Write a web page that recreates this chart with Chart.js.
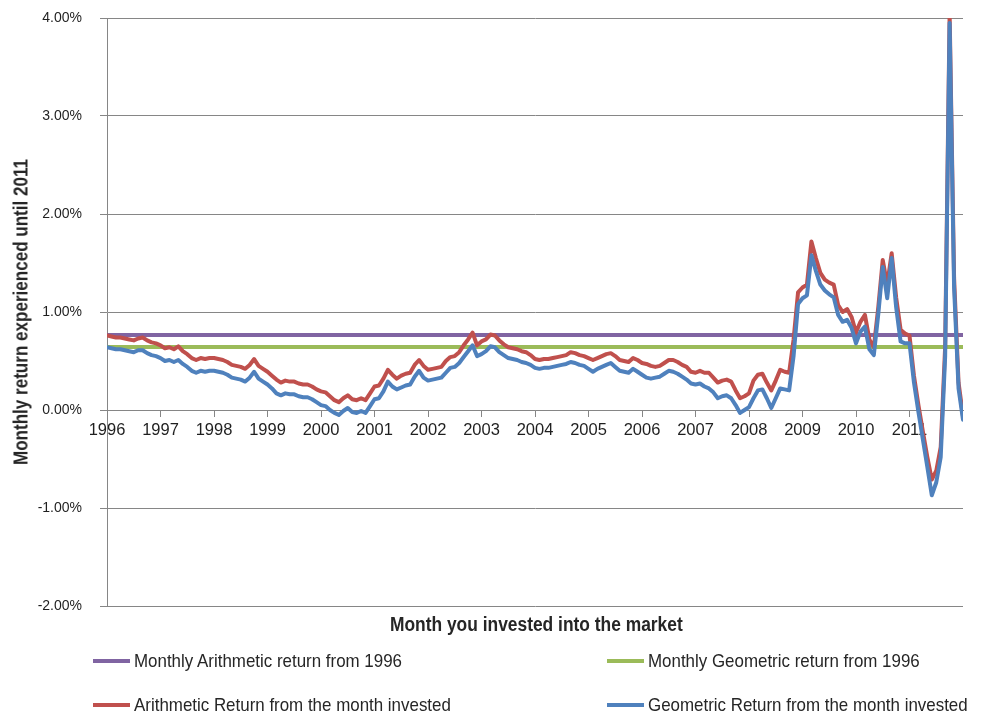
<!DOCTYPE html>
<html>
<head>
<meta charset="utf-8">
<script src="https://cdn.jsdelivr.net/npm/chart.js@4.4.1/dist/chart.umd.min.js"></script>
<style>
  body { margin: 0; background: #fff; }
  #wrap { position: relative; width: 991px; height: 715px; overflow: hidden; font-family: 'Liberation Sans', Arial, sans-serif; color: #262626; }
  #chart { position: absolute; left: 0; top: 0; }
  .title { position: absolute; font-weight: bold; font-size: 20px; line-height: 24px; white-space: nowrap; transform-origin: center center; }
  .leg { position: absolute; font-size: 19px; line-height: 24px; white-space: nowrap; transform-origin: left center; }
  .sw { position: absolute; width: 37px; height: 4px; }
</style>
</head>
<body>
<div id="wrap">
  <canvas id="chart" width="991" height="715"></canvas>
  <div class="title" id="x-title">Month you invested into the market</div>
  <div class="title" id="y-title">Monthly return experienced until 2011</div>
  <div id="legend"></div>
</div>
<script>
/* Monthly return experienced until 2011, by month invested */
(function () {
  "use strict";

  const yearLabels = ["1996", "1997", "1998", "1999", "2000", "2001", "2002", "2003",
    "2004", "2005", "2006", "2007", "2008", "2009", "2010", "2011"];

  // flat monthly averages since Jan 1996 (%)
  const arithFrom1996 = 0.765;
  const geoFrom1996 = 0.643;

  // one value per month invested, Jan 1996 onwards (%)
  const arithFromMonth = [
    0.76, 0.75, 0.74, 0.74, 0.73, 0.72, 0.71, 0.73, 0.74, 0.71, 0.69, 0.68,
    0.66, 0.63, 0.64, 0.62, 0.65, 0.60, 0.57, 0.53, 0.51, 0.53, 0.52, 0.53,
    0.53, 0.52, 0.51, 0.49, 0.46, 0.45, 0.44, 0.42, 0.46, 0.52, 0.45, 0.42,
    0.39, 0.35, 0.31, 0.28, 0.30, 0.29, 0.29, 0.27, 0.26, 0.26, 0.24, 0.21,
    0.19, 0.18, 0.14, 0.10, 0.08, 0.12, 0.15, 0.11, 0.10, 0.12, 0.10, 0.17,
    0.24, 0.25, 0.32, 0.41, 0.36, 0.32, 0.35, 0.37, 0.38, 0.46, 0.51, 0.45,
    0.41, 0.42, 0.43, 0.44, 0.50, 0.54, 0.55, 0.59, 0.66, 0.72, 0.79, 0.66,
    0.70, 0.72, 0.77, 0.76, 0.71, 0.67, 0.64, 0.63, 0.62, 0.60, 0.59, 0.56,
    0.52, 0.51, 0.52, 0.52, 0.53, 0.54, 0.55, 0.56, 0.59, 0.58, 0.56, 0.55,
    0.53, 0.51, 0.53, 0.55, 0.57, 0.58, 0.55, 0.51, 0.50, 0.49, 0.53, 0.51,
    0.48, 0.47, 0.45, 0.44, 0.45, 0.48, 0.51, 0.51, 0.49, 0.46, 0.44, 0.39,
    0.38, 0.40, 0.38, 0.38, 0.33, 0.28, 0.30, 0.31, 0.29, 0.20, 0.12, 0.14,
    0.17, 0.30, 0.36, 0.37, 0.28, 0.20, 0.30, 0.41, 0.39, 0.38, 0.72, 1.20,
    1.25, 1.28, 1.72, 1.55, 1.40, 1.33, 1.30, 1.28, 1.07, 1.00, 1.03, 0.95,
    0.79, 0.90, 0.97, 0.72, 0.64, 1.05, 1.53, 1.28, 1.60, 1.15, 0.82, 0.78,
    0.76, 0.35, 0.05, -0.22, -0.48, -0.71, -0.62, -0.38, 0.65, 4.05, 1.35, 0.28, -0.06
  ];

  const geoFromMonth = [
    0.64, 0.63, 0.62, 0.62, 0.61, 0.60, 0.59, 0.61, 0.61, 0.58, 0.56, 0.55,
    0.53, 0.50, 0.51, 0.49, 0.51, 0.47, 0.44, 0.40, 0.38, 0.40, 0.39, 0.40,
    0.40, 0.39, 0.38, 0.36, 0.33, 0.32, 0.31, 0.29, 0.33, 0.39, 0.32, 0.29,
    0.26, 0.22, 0.17, 0.15, 0.17, 0.16, 0.16, 0.14, 0.13, 0.13, 0.11, 0.08,
    0.05, 0.04, 0.00, -0.03, -0.05, -0.01, 0.02, -0.02, -0.03, -0.01, -0.03, 0.04,
    0.11, 0.12, 0.19, 0.29, 0.24, 0.21, 0.23, 0.25, 0.26, 0.34, 0.40, 0.33,
    0.30, 0.31, 0.32, 0.33, 0.38, 0.43, 0.44, 0.48, 0.54, 0.60, 0.66, 0.55,
    0.57, 0.60, 0.65, 0.64, 0.59, 0.56, 0.53, 0.52, 0.51, 0.49, 0.48, 0.46,
    0.43, 0.42, 0.43, 0.43, 0.44, 0.45, 0.46, 0.47, 0.49, 0.48, 0.46, 0.45,
    0.42, 0.39, 0.42, 0.44, 0.46, 0.48, 0.44, 0.40, 0.39, 0.38, 0.42, 0.39,
    0.36, 0.33, 0.32, 0.33, 0.34, 0.37, 0.40, 0.39, 0.37, 0.34, 0.31, 0.27,
    0.26, 0.27, 0.24, 0.22, 0.18, 0.12, 0.14, 0.15, 0.12, 0.05, -0.03, 0.00,
    0.03, 0.12, 0.20, 0.21, 0.12, 0.02, 0.12, 0.22, 0.21, 0.20, 0.55, 1.08,
    1.14, 1.17, 1.58, 1.42, 1.28, 1.22, 1.18, 1.15, 0.97, 0.90, 0.92, 0.84,
    0.68, 0.80, 0.85, 0.62, 0.56, 0.98, 1.46, 1.14, 1.55, 1.05, 0.70, 0.68,
    0.68, 0.28, -0.02, -0.30, -0.58, -0.87, -0.74, -0.48, 0.55, 3.95, 1.25, 0.22, -0.10
  ];

  const FONT = "'Liberation Sans', Arial, sans-serif";
  const TEXT = "#1f1f1f";
  const GRID = "#868686";
  const lastMonth = arithFromMonth.length - 1;

  const series = [
    { label: "Monthly Arithmetic return from 1996", color: "#8064A2", order: 4,
      data: [{ x: 0, y: arithFrom1996 }, { x: lastMonth, y: arithFrom1996 }] },
    { label: "Monthly Geometric return from 1996", color: "#9BBB59", order: 3,
      data: [{ x: 0, y: geoFrom1996 }, { x: lastMonth, y: geoFrom1996 }] },
    { label: "Arithmetic Return from the month invested", color: "#C0504D", order: 2,
      data: arithFromMonth.map((v, i) => ({ x: i, y: v })) },
    { label: "Geometric Return from the month invested", color: "#4F81BD", order: 1,
      data: geoFromMonth.map((v, i) => ({ x: i, y: v })) },
  ];

  new Chart(document.getElementById("chart"), {
    type: "line",
    data: {
      datasets: series.map((s) => ({
        label: s.label, data: s.data, order: s.order,
        borderColor: s.color, backgroundColor: s.color,
      })),
    },
    options: {
      responsive: false, animation: false,
      layout: { padding: { left: 0, right: 28, top: 18, bottom: 109 } },
      plugins: { legend: { display: false }, tooltip: { enabled: false } },
      elements: {
        point: { radius: 0 },
        line: { borderWidth: 4, tension: 0, borderJoinStyle: "round", borderCapStyle: "round" },
      },
      scales: {
        x: {
          type: "linear", position: { y: 0 }, min: 0, max: lastMonth,
          afterBuildTicks: (s) => { s.ticks = yearLabels.map((_, i) => ({ value: i * 12 })); },
          ticks: {
            autoSkip: false, maxRotation: 0, padding: 5, color: TEXT,
            font: { family: FONT, size: 16.5 },
            callback: (v, i) => yearLabels[i],
          },
          grid: { drawOnChartArea: false, drawTicks: true, tickLength: 6, color: GRID },
          border: { color: GRID, width: 1 },
        },
        y: {
          min: -2, max: 4,
          // fixed axis width; the label overhang must not push the plot top down
          afterFit: (s) => { s.width = 107; s.paddingTop = 0; s.paddingBottom = 0; },
          ticks: {
            stepSize: 1, padding: 18, color: TEXT,
            font: { family: FONT, size: 14 },
            callback: (v) => v.toFixed(2) + "%",
          },
          grid: { color: GRID, tickLength: 7 },
          border: { color: GRID, width: 1 },
        },
      },
    },
  });

  // two-column legend under the plot
  const slots = [[93, 661], [607, 661], [93, 705], [607, 705]];
  document.getElementById("legend").innerHTML = series.map((s, i) => {
    const [x, y] = slots[i];
    return `<div class="sw" style="left:${x}px;top:${y - 2}px;background:${s.color}"></div>` +
      `<div class="leg" style="left:${x + 41}px;top:${y - 12}px">${s.label}</div>`;
  }).join("");

  // the original text is set in a condensed face; squeeze to the same widths
  const legs = document.querySelectorAll(".leg");
  const legScale = 268 / legs[0].offsetWidth;
  legs.forEach((el) => { el.style.transform = `scaleX(${legScale})`; });

  function placeTitle(el, cx, cy, span, rotate) {
    const w = el.offsetWidth, h = el.offsetHeight;
    el.style.left = (cx - w / 2) + "px";
    el.style.top = (cy - h / 2) + "px";
    el.style.transform = (rotate ? "rotate(-90deg) " : "") + `scaleX(${span / w})`;
  }
  placeTitle(document.getElementById("x-title"), 536, 624, 293, false);
  placeTitle(document.getElementById("y-title"), 20, 312, 306, true);
})();
</script>
</body>
</html>
